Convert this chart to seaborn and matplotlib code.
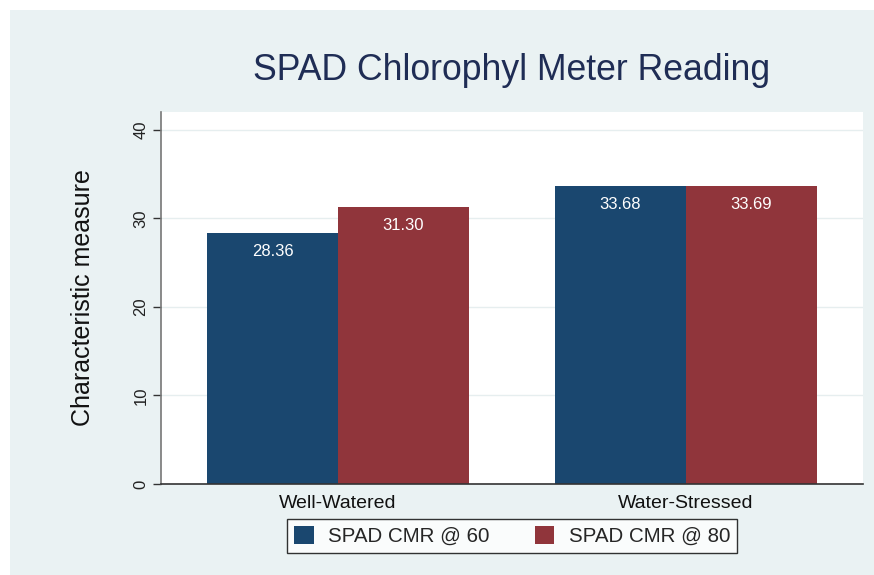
import matplotlib
matplotlib.use("Agg")
import matplotlib.pyplot as plt
import seaborn as sns
import pandas as pd

categories = ["Well-Watered", "Water-Stressed"]
series_names = ["SPAD CMR @ 60", "SPAD CMR @ 80"]
cmr60 = [28.36, 33.68]
cmr80 = [31.30, 33.69]
yticks = [0, 10, 20, 30, 40]

df = pd.DataFrame({
    "category": categories * 2,
    "series": [series_names[0]] * 2 + [series_names[1]] * 2,
    "value": cmr60 + cmr80,
})

sns.set_theme(style="white")
plt.rcParams['font.family'] = ['Liberation Sans', 'DejaVu Sans']

W, H = 874, 575
fig = plt.figure(figsize=(W / 100, H / 100), dpi=100, facecolor="white")
bg = "#eaf2f3"
axbg = fig.add_axes([10 / W, 0, 1 - 10 / W, 1 - 10 / H], zorder=-1)
axbg.set_facecolor(bg)
axbg.set_xticks([])
axbg.set_yticks([])
for s in axbg.spines.values():
    s.set_visible(False)

ax = fig.add_axes([161 / W, (H - 484) / H, 702 / W, 372 / H], zorder=1)
ax.set_facecolor("white")

palette = {series_names[0]: "#1a476f", series_names[1]: "#90353b"}
sns.barplot(data=df, x="category", y="value", hue="series", order=categories,
            hue_order=series_names, palette=palette, width=0.753, saturation=1,
            edgecolor="none", linewidth=0, ax=ax, legend=True, errorbar=None)

ax.set_xlim(-0.509, 1.509)
ax.set_ylim(0, 42)
ax.set_yticks(yticks)
ax.set_yticklabels([str(t) for t in yticks], rotation=90, va="center", fontsize=12)
ax.yaxis.grid(True, color="#e6eeef", linewidth=1)
ax.set_axisbelow(True)
ax.tick_params(axis="y", left=True, length=6, width=1, color="#333333", pad=3)
ax.tick_params(axis="x", bottom=False, labelsize=14, pad=2)
for lab in ax.get_xticklabels():
    lab.set_color("#111111")
for lab in ax.get_yticklabels():
    lab.set_color("#222222")

for s in ["top", "right"]:
    ax.spines[s].set_visible(False)
ax.spines["left"].set_color("#777777")
ax.spines["left"].set_linewidth(1.2)
ax.spines["bottom"].set_color("#333333")
ax.spines["bottom"].set_linewidth(1.2)

ax.set_xlabel("")
ax.set_ylabel("Characteristic measure", fontsize=18, color="#111111", labelpad=28)

for cont in ax.containers:
    ax.bar_label(cont, labels=[f"{v:.2f}" for v in cont.datavalues], label_type="edge",
                 padding=-19, color="white", fontsize=12)

leg = ax.legend(loc="upper center", bbox_to_anchor=(512 / W, (H - 519) / H), bbox_transform=fig.transFigure,
                ncol=2, frameon=True, fancybox=False, fontsize=14.8, handlelength=0.95,
                handleheight=0.95, columnspacing=2.2, handletextpad=0.7, borderpad=0.35,
                borderaxespad=0)
leg.get_frame().set_edgecolor("black")
leg.get_frame().set_linewidth(1)
leg.get_frame().set_facecolor("white")

fig.text(512 / W, 1 - 70 / H, "SPAD Chlorophyl Meter Reading", ha="center", va="center",
         fontsize=25.7, color="#1f2d55")

fig.savefig("out.png", dpi=100, facecolor="white")
